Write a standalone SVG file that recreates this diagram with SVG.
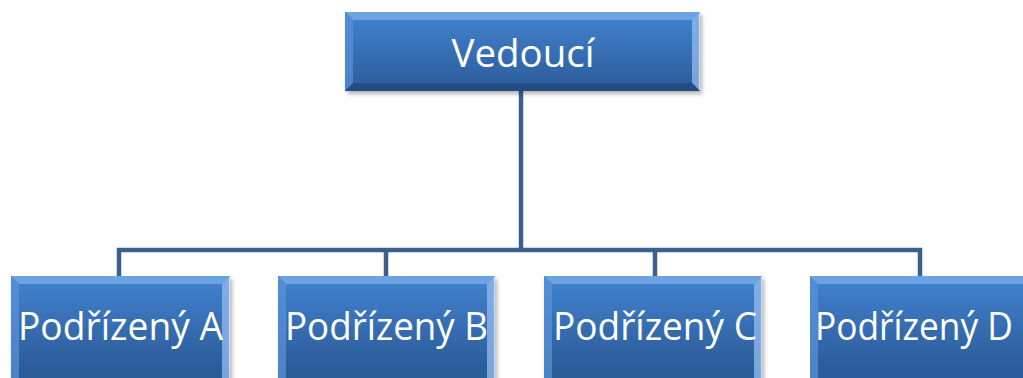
<svg xmlns="http://www.w3.org/2000/svg" width="1023" height="378" viewBox="0 0 1023 378">
<defs>
<linearGradient id="face" x1="0" y1="0" x2="0" y2="1">
<stop offset="0" stop-color="#4283d0"/>
<stop offset="1" stop-color="#2b5b98"/>
</linearGradient>
<linearGradient id="faceTall" gradientUnits="userSpaceOnUse" x1="0" y1="276" x2="0" y2="370">
<stop offset="0" stop-color="#4283d0"/>
<stop offset="1" stop-color="#2b5b98"/>
</linearGradient>
<filter id="sh" x="-10%" y="-10%" width="120%" height="130%">
<feDropShadow dx="2" dy="3" stdDeviation="2" flood-color="#000" flood-opacity="0.3"/>
</filter>
<style>
.bt{fill:#78abe8;opacity:0.8}
.bl{fill:#5a92d8;opacity:0.75}
.br{fill:#8fb8ec;opacity:0.8}
.bb{fill:#21497f;opacity:0.8}
.edge{fill:none;stroke:#c8dcf5;stroke-width:1.2}
.lbl{font-family:"Open Sans","Liberation Sans",sans-serif;font-size:39px;fill:#ffffff}
.conn{fill:none;stroke:#3b5f8e;stroke-width:4.5;stroke-linejoin:miter}
</style>
</defs>
<rect width="1023" height="378" fill="#ffffff"/>
<g id="connectors">
<path class="conn" d="M521,91 V250"/>
<path class="conn" d="M119,276 V250 H920 V276"/>
<path class="conn" d="M386,250 V276"/>
<path class="conn" d="M655,250 V276"/>
</g>
<g id="vedouci">
<rect x="345" y="12" width="355" height="79" fill="url(#face)" filter="url(#sh)"/>
<polygon class="bt" points="345,12 700,12 692,20 353,20"/>
<polygon class="bl" points="345,12 353,20 353,83 345,91"/>
<polygon class="br" points="700,12 700,91 692,83 692,20"/>
<polygon class="bb" points="345,91 700,91 692,83 353,83"/>
<line class="edge" x1="699.5" y1="13" x2="699.5" y2="90"/>
<text class="lbl" x="523" y="67" text-anchor="middle" textLength="143" lengthAdjust="spacingAndGlyphs">Vedoucí</text>
</g>
<g id="podrizeny-a">
<rect x="11" y="276" width="219" height="110" fill="url(#faceTall)" filter="url(#sh)"/>
<polygon class="bt" points="11,276 230,276 222,284 19,284"/>
<polygon class="bl" points="11,276 19,284 19,378 11,386"/>
<polygon class="br" points="230,276 230,386 222,378 222,284"/>
<line class="edge" x1="229.5" y1="277" x2="229.5" y2="386"/>
<text class="lbl" x="120.5" y="340" text-anchor="middle" textLength="205" lengthAdjust="spacingAndGlyphs">Podřízený A</text>
</g>
<g id="podrizeny-b">
<rect x="278" y="276" width="217" height="110" fill="url(#faceTall)" filter="url(#sh)"/>
<polygon class="bt" points="278,276 495,276 487,284 286,284"/>
<polygon class="bl" points="278,276 286,284 286,378 278,386"/>
<polygon class="br" points="495,276 495,386 487,378 487,284"/>
<line class="edge" x1="494.5" y1="277" x2="494.5" y2="386"/>
<text class="lbl" x="386.5" y="340" text-anchor="middle" textLength="203" lengthAdjust="spacingAndGlyphs">Podřízený B</text>
</g>
<g id="podrizeny-c">
<rect x="544" y="276" width="218" height="110" fill="url(#faceTall)" filter="url(#sh)"/>
<polygon class="bt" points="544,276 762,276 754,284 552,284"/>
<polygon class="bl" points="544,276 552,284 552,378 544,386"/>
<polygon class="br" points="762,276 762,386 754,378 754,284"/>
<line class="edge" x1="761.5" y1="277" x2="761.5" y2="386"/>
<text class="lbl" x="655" y="340" text-anchor="middle" textLength="204" lengthAdjust="spacingAndGlyphs">Podřízený C</text>
</g>
<g id="podrizeny-d">
<rect x="810" y="276" width="213" height="110" fill="url(#faceTall)"/>
<polygon class="bt" points="810,276 1023,276 1023,284 818,284"/>
<polygon class="bl" points="810,276 818,284 818,378 810,386"/>
<text class="lbl" x="815" y="340" textLength="198" lengthAdjust="spacingAndGlyphs">Podřízený D</text>
</g>
</svg>
